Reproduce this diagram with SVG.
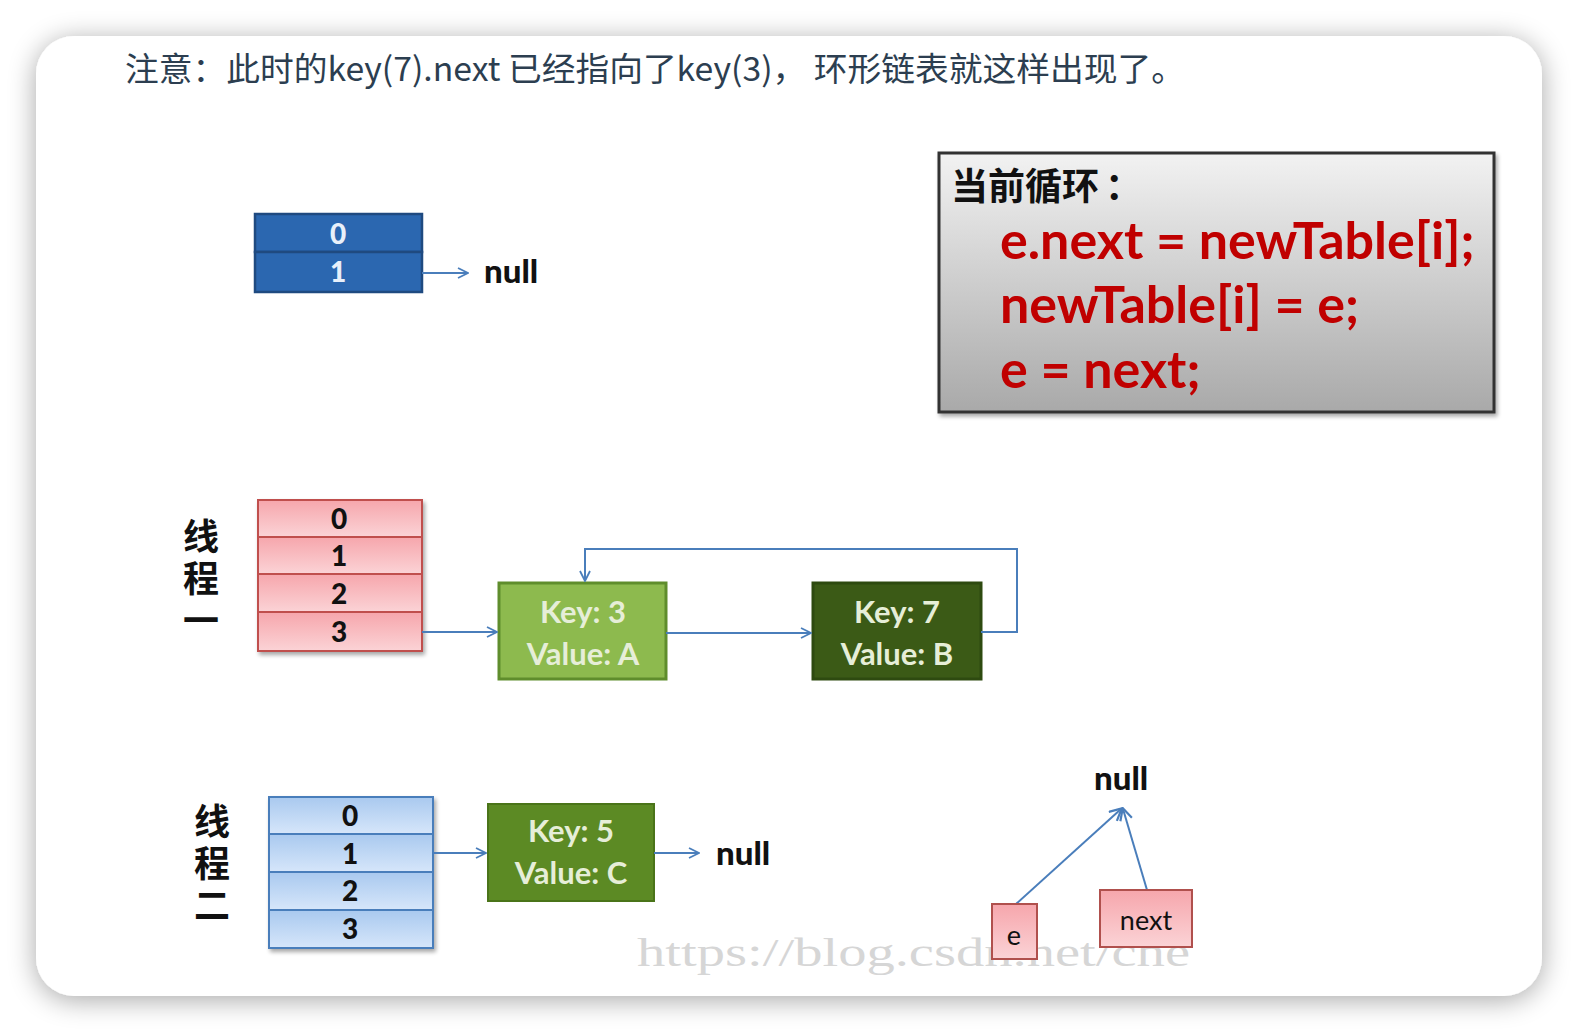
<svg xmlns="http://www.w3.org/2000/svg" width="1578" height="1032" viewBox="0 0 1578 1032">
<defs>
  <filter id="cardShadow" x="-10%" y="-10%" width="120%" height="125%">
    <feGaussianBlur in="SourceAlpha" stdDeviation="14"/>
    <feOffset dx="0" dy="4" result="b"/>
    <feComponentTransfer><feFuncA type="linear" slope="0.35"/></feComponentTransfer>
    <feMerge><feMergeNode/><feMergeNode in="SourceGraphic"/></feMerge>
  </filter>
  <filter id="soft" x="-10%" y="-10%" width="125%" height="130%">
    <feGaussianBlur in="SourceAlpha" stdDeviation="2"/>
    <feOffset dx="2" dy="3"/>
    <feComponentTransfer><feFuncA type="linear" slope="0.35"/></feComponentTransfer>
    <feMerge><feMergeNode/><feMergeNode in="SourceGraphic"/></feMerge>
  </filter>
  <linearGradient id="codeGrad" x1="0" y1="0" x2="0" y2="1">
    <stop offset="0" stop-color="#f2f2f2"/>
    <stop offset="1" stop-color="#a9a9a9"/>
  </linearGradient>
  <linearGradient id="pinkGrad" x1="0" y1="0" x2="0" y2="1">
    <stop offset="0" stop-color="#f6a6ac"/>
    <stop offset="1" stop-color="#fbd3d6"/>
  </linearGradient>
  <linearGradient id="lblueGrad" x1="0" y1="0" x2="0" y2="1">
    <stop offset="0" stop-color="#a9c9ef"/>
    <stop offset="1" stop-color="#d6e6fa"/>
  </linearGradient>
  <marker id="arr" viewBox="0 0 12 12" refX="11" refY="6" markerWidth="12" markerHeight="12" markerUnits="userSpaceOnUse" orient="auto">
    <path d="M1,1 L11,6 L1,11" fill="none" stroke="#4a7ebb" stroke-width="1.8"/>
  </marker>
  <marker id="arrUp" viewBox="0 0 14 14" refX="12" refY="7" markerWidth="14" markerHeight="14" markerUnits="userSpaceOnUse" orient="auto">
    <path d="M1,1 L13,7 L1,13" fill="none" stroke="#4a7ebb" stroke-width="2.2"/>
  </marker>
</defs>
<style>
  .title{font-family:"Noto Sans CJK SC","Noto Sans",sans-serif;font-size:33px;fill:#2c3e50;}
  .num{font-family:Lato,"Liberation Sans",sans-serif;font-weight:900;font-size:28px;text-anchor:middle;}
  .kv{font-family:Lato,"Liberation Sans",sans-serif;font-weight:bold;font-size:31px;text-anchor:middle;fill:#e6eed8;}
  .null{font-family:Lato,"Liberation Sans",sans-serif;font-weight:900;font-size:33px;fill:#111;}
  .code{font-family:Lato,"Liberation Sans",sans-serif;font-weight:bold;font-size:52px;fill:#c00000;}
  .cjkb{font-family:"Noto Sans CJK SC",sans-serif;font-weight:bold;fill:#111;}
  .vert{font-family:"Noto Sans CJK SC",sans-serif;font-weight:bold;fill:#111;font-size:36px;writing-mode:vertical-rl;letter-spacing:6px;}
  .conn{fill:none;stroke:#4a7ebb;stroke-width:2;}
  .small{font-family:Lato,"Liberation Sans",sans-serif;font-size:27px;fill:#111;text-anchor:middle;}
</style>
<rect width="1578" height="1032" fill="#ffffff"/>
<rect x="36" y="36" width="1506" height="960" rx="38" ry="38" fill="#ffffff" filter="url(#cardShadow)"/>

<text class="title" x="125" y="81" textLength="1060" lengthAdjust="spacingAndGlyphs">注意：此时的key(7).next 已经指向了key(3)， 环形链表就这样出现了。</text>

<g id="table-top">
  <rect x="255" y="214" width="167" height="38" fill="#2b67b0" stroke="#1f4a80" stroke-width="2.5"/>
  <rect x="255" y="252" width="167" height="40" fill="#2b67b0" stroke="#1f4a80" stroke-width="2.5"/>
  <text class="num" x="338" y="244" fill="#e8f0fa">0</text>
  <text class="num" x="338" y="282" fill="#e8f0fa">1</text>
</g>
<text class="null" x="484" y="283">null</text>

<g id="code-box">
  <rect x="939" y="153" width="555" height="259" fill="url(#codeGrad)" stroke="#333" stroke-width="3" filter="url(#soft)"/>
  <text class="cjkb" x="951" y="200" font-size="37">当前循环<tspan dx="6">：</tspan></text>
  <text class="code" x="1000" y="259">e.next = newTable[i];</text>
  <text class="code" x="1000" y="323">newTable[i] = e;</text>
  <text class="code" x="1000" y="388">e = next;</text>
</g>

<g id="label-thread1">
  <text class="vert" x="201" y="518">线程一</text>
</g>

<g id="table-thread1" filter="url(#soft)">
  <rect x="258" y="500" width="164" height="37" fill="url(#pinkGrad)" stroke="#c0504d" stroke-width="2"/>
  <rect x="258" y="537" width="164" height="37" fill="url(#pinkGrad)" stroke="#c0504d" stroke-width="2"/>
  <rect x="258" y="574" width="164" height="38" fill="url(#pinkGrad)" stroke="#c0504d" stroke-width="2"/>
  <rect x="258" y="612" width="164" height="39" fill="url(#pinkGrad)" stroke="#c0504d" stroke-width="2"/>
</g>
<g id="table-thread1-text">
  <text class="num" x="339" y="529" fill="#111">0</text>
  <text class="num" x="339" y="566" fill="#111">1</text>
  <text class="num" x="339" y="604" fill="#111">2</text>
  <text class="num" x="339" y="642" fill="#111">3</text>
</g>

<g id="node-key3">
  <rect x="499" y="583" width="167" height="96" fill="#8dba4e" stroke="#5f8d2c" stroke-width="3"/>
  <text class="kv" x="583" y="623">Key: 3</text>
  <text class="kv" x="583" y="665">Value: A</text>
</g>

<g id="node-key7">
  <rect x="813" y="583" width="168" height="96" fill="#3b5a16" stroke="#2e4a10" stroke-width="3"/>
  <text class="kv" x="897" y="623">Key: 7</text>
  <text class="kv" x="897" y="665">Value: B</text>
</g>

<g id="label-thread2">
  <text class="vert" x="212" y="803">线程二</text>
</g>

<g id="table-thread2" filter="url(#soft)">
  <rect x="269" y="797" width="164" height="37" fill="url(#lblueGrad)" stroke="#4a7ebb" stroke-width="2"/>
  <rect x="269" y="834" width="164" height="38" fill="url(#lblueGrad)" stroke="#4a7ebb" stroke-width="2"/>
  <rect x="269" y="872" width="164" height="38" fill="url(#lblueGrad)" stroke="#4a7ebb" stroke-width="2"/>
  <rect x="269" y="910" width="164" height="38" fill="url(#lblueGrad)" stroke="#4a7ebb" stroke-width="2"/>
</g>
<g id="table-thread2-text">
  <text class="num" x="350" y="826" fill="#111">0</text>
  <text class="num" x="350" y="864" fill="#111">1</text>
  <text class="num" x="350" y="901" fill="#111">2</text>
  <text class="num" x="350" y="939" fill="#111">3</text>
</g>

<g id="node-key5">
  <rect x="488" y="804" width="166" height="97" fill="#5c8a24" stroke="#4a7419" stroke-width="2"/>
  <text class="kv" x="571" y="842">Key: 5</text>
  <text class="kv" x="571" y="884">Value: C</text>
</g>
<text class="null" x="716" y="865">null</text>

<text class="null" x="1094" y="790">null</text>

<text x="637" y="966" font-family="'Liberation Serif',serif" font-size="40" fill="#d6d6d6" textLength="553" lengthAdjust="spacingAndGlyphs">https://blog.csdn.net/che</text>

<g id="connectors">
  <line class="conn" x1="422" y1="273" x2="468" y2="273" marker-end="url(#arr)"/>
  <polyline class="conn" points="422,632 497,632" marker-end="url(#arr)"/>
  <polyline class="conn" points="666,633 811,633" marker-end="url(#arr)"/>
  <polyline class="conn" points="981,632 1017,632 1017,549 585,549 585,581" marker-end="url(#arr)"/>
  <polyline class="conn" points="433,853 486,853" marker-end="url(#arr)"/>
  <polyline class="conn" points="654,853 699,853" marker-end="url(#arr)"/>
  <line class="conn" x1="1016" y1="904" x2="1121" y2="809" marker-end="url(#arrUp)" stroke-width="2.5"/>
  <line class="conn" x1="1147" y1="890" x2="1123" y2="809" marker-end="url(#arrUp)" stroke-width="2.5"/>
</g>

<g id="node-e">
  <rect x="992" y="904" width="45" height="55" fill="url(#pinkGrad)" stroke="#b0504d" stroke-width="2"/>
  <text class="small" x="1014" y="945">e</text>
</g>
<g id="node-next">
  <rect x="1100" y="890" width="92" height="57" fill="url(#pinkGrad)" stroke="#b0504d" stroke-width="2"/>
  <text class="small" x="1146" y="930">next</text>
</g>
</svg>
